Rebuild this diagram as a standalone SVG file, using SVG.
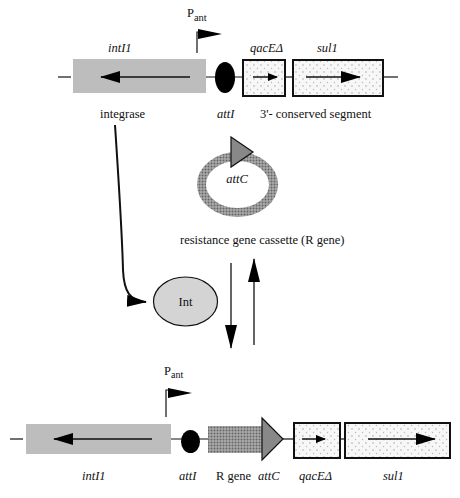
<svg xmlns="http://www.w3.org/2000/svg" width="460" height="498" viewBox="0 0 460 498">
<defs>
<pattern id="dots" width="7" height="7" patternUnits="userSpaceOnUse">
<rect width="7" height="7" fill="#f7f7f7"/>
<circle cx="2" cy="2" r="0.7" fill="#999"/>
<circle cx="5.5" cy="5.5" r="0.7" fill="#bbb"/>
</pattern>
<pattern id="check" width="3" height="3" patternUnits="userSpaceOnUse">
<rect width="3" height="3" fill="#aaa"/>
<circle cx="1.5" cy="1.5" r="1" fill="#666"/>
</pattern>
<marker id="ah" markerWidth="10" markerHeight="8" refX="9" refY="4" orient="auto" markerUnits="userSpaceOnUse">
<path d="M0,0 L10,4 L0,8 Z" fill="#000"/>
</marker>
<marker id="ahBig" markerWidth="20" markerHeight="12" refX="19" refY="6" orient="auto" markerUnits="userSpaceOnUse">
<path d="M0,0 L20,6 L0,12 Z" fill="#000"/>
</marker>
<marker id="ahV" markerWidth="24" markerHeight="12" refX="23" refY="6" orient="auto" markerUnits="userSpaceOnUse">
<path d="M0,0 L24,6 L0,12 Z" fill="#000"/>
</marker>
</defs>
<style>
text{font-family:"Liberation Serif","Times New Roman",serif;font-size:12.5px;fill:#111}
.it{font-style:italic}
.bb{stroke:#111;stroke-width:1.2;fill:none}
.gene{fill:url(#dots);stroke:#111;stroke-width:2}
.int{fill:#bdbdbd}
.ga{stroke:#111;stroke-width:1.5;fill:none}
</style>

<!-- top construct -->
<g id="top-backbone">
<line class="bb" x1="58" y1="77" x2="71" y2="77"/>
<line class="bb" x1="206" y1="77" x2="243" y2="77"/>
<line class="bb" x1="285" y1="77" x2="293" y2="77"/>
<line class="bb" x1="383" y1="77" x2="398" y2="77"/>
</g>
<g id="top-intI1">
<rect class="int" x="73" y="59" width="133" height="34"/>
<line class="ga" x1="190" y1="77" x2="101" y2="77" marker-end="url(#ahBig)"/>
<text class="it" x="108" y="52">intI1</text>
<text x="100" y="118">integrase</text>
</g>
<g id="top-pant">
<path d="M197 53 V32 H200" fill="none" stroke="#111" stroke-width="1.2"/>
<polygon points="198,29 222,34 198,39" fill="#000"/>
<text x="187" y="17" font-size="14.5">P<tspan font-size="10.5" dy="4">ant</tspan></text>
</g>
<g id="top-attI">
<ellipse cx="225" cy="77.5" rx="10" ry="15.5" fill="#000"/>
<text class="it" x="217" y="118">attI</text>
</g>
<g id="top-qacE">
<rect class="gene" x="243" y="60" width="42" height="36"/>
<line class="ga" x1="253" y1="77" x2="277" y2="77" marker-end="url(#ah)"/>
<text class="it" x="250" y="52">qacEΔ</text>
</g>
<g id="top-sul1">
<rect class="gene" x="293" y="60" width="90" height="36"/>
<line class="ga" x1="306" y1="77" x2="360" y2="77" marker-end="url(#ahBig)"/>
<text class="it" x="317" y="52">sul1</text>
</g>
<text x="260" y="118">3'- conserved segment</text>

<!-- cassette -->
<g id="cassette">
<ellipse cx="237.5" cy="184.5" rx="36" ry="28" fill="none" stroke="url(#check)" stroke-width="9"/>
<polygon points="231,137 253,152 231,167" fill="#888" stroke="#111" stroke-width="1.2"/>
<text class="it" x="237" y="183" text-anchor="middle">attC</text>
<text x="180" y="244">resistance gene cassette (R gene)</text>
</g>

<!-- Int -->
<g id="int-protein">
<ellipse cx="185.5" cy="301.5" rx="32" ry="24.5" fill="#d4d4d4" stroke="#111" stroke-width="1.2"/>
<text x="185.5" y="306" text-anchor="middle">Int</text>
</g>

<g id="connectors">
<path d="M115,125 C118,170 122,230 123,270 C124,292 130,301 146,302" fill="none" stroke="#111" stroke-width="2" marker-end="url(#ahBig)"/>
<line x1="231" y1="263" x2="231" y2="348" stroke="#111" stroke-width="1.3" marker-end="url(#ahV)"/>
<line x1="254" y1="345" x2="254" y2="259" stroke="#111" stroke-width="1.3" marker-end="url(#ahV)"/>
</g>

<!-- bottom construct -->
<g id="bot-backbone">
<line class="bb" x1="10" y1="439" x2="23" y2="439"/>
<line class="bb" x1="171" y1="439" x2="208" y2="439"/>
<line class="bb" x1="283" y1="439" x2="294" y2="439"/>
<line class="bb" x1="340" y1="439" x2="345" y2="439"/>
</g>
<g id="bot-intI1">
<rect class="int" x="26" y="424" width="145" height="30"/>
<line class="ga" x1="152" y1="439" x2="54" y2="439" marker-end="url(#ahBig)"/>
<text class="it" x="82" y="480">intI1</text>
</g>
<g id="bot-pant">
<path d="M166 417 V390 H169" fill="none" stroke="#111" stroke-width="1.2"/>
<polygon points="168,388 192,393 168,398" fill="#000"/>
<text x="164" y="375" font-size="13.5">P<tspan font-size="10" dy="3">ant</tspan></text>
</g>
<g id="bot-attI">
<ellipse cx="190.5" cy="441.5" rx="9.5" ry="11.5" fill="#000"/>
<text class="it" x="179" y="480">attI</text>
</g>
<g id="bot-Rgene">
<rect x="208" y="426" width="54" height="27" fill="url(#check)"/>
<text x="216" y="480">R gene</text>
</g>
<g id="bot-attC">
<polygon points="262,418 283,439 262,460" fill="#888" stroke="#111" stroke-width="1.2"/>
<text class="it" x="258" y="480">attC</text>
</g>
<g id="bot-qacE">
<rect class="gene" x="294" y="423" width="46" height="35"/>
<line class="ga" x1="302" y1="439" x2="325" y2="439" marker-end="url(#ah)"/>
<text class="it" x="299" y="480">qacEΔ</text>
</g>
<g id="bot-sul1">
<rect class="gene" x="345" y="423" width="105" height="35"/>
<line class="ga" x1="368" y1="439" x2="435" y2="439" marker-end="url(#ahBig)"/>
<text class="it" x="383" y="480">sul1</text>
</g>
</svg>
